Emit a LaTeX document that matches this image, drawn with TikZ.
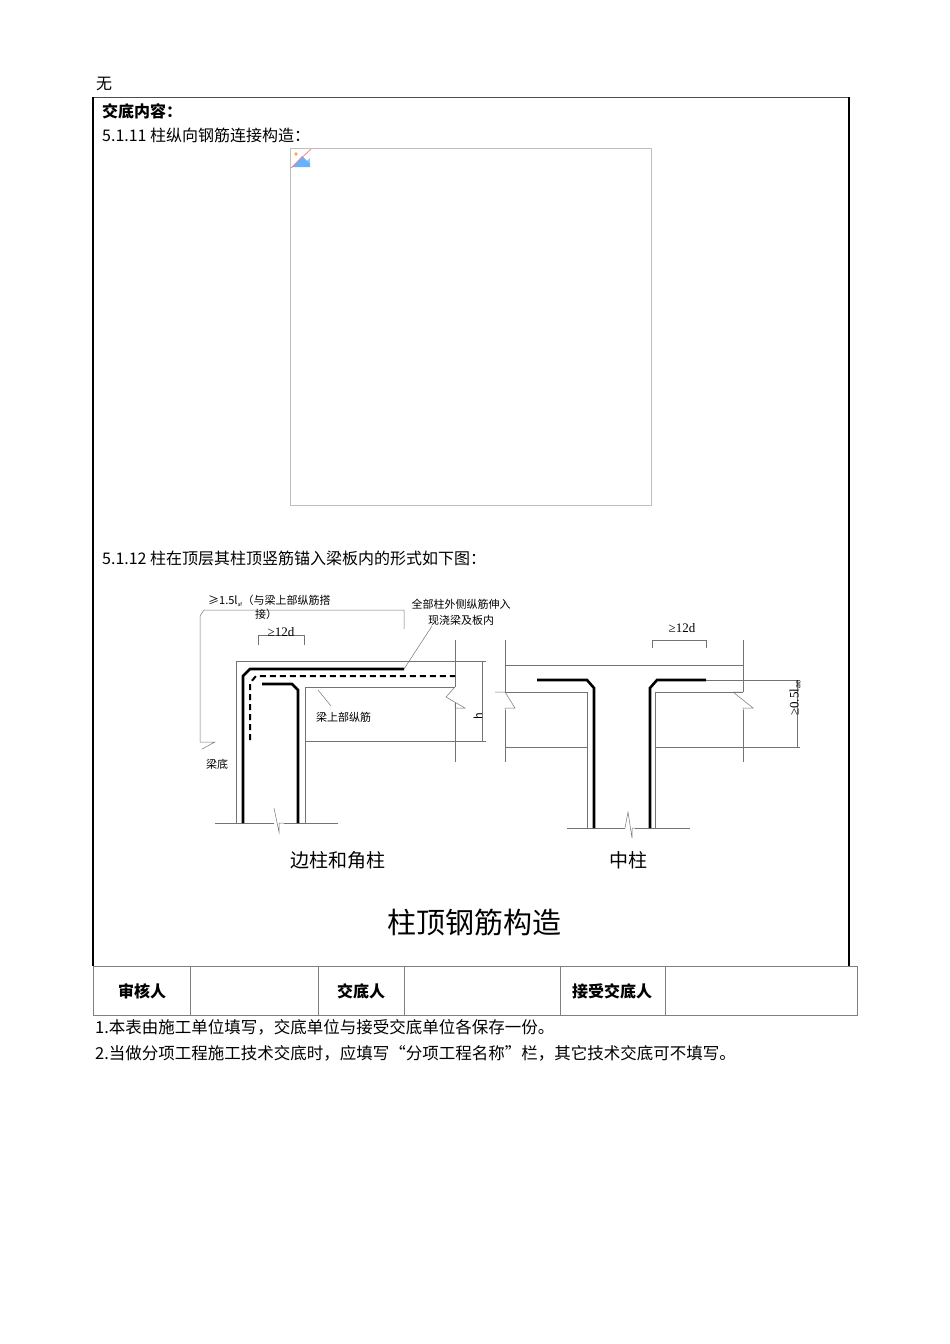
\documentclass[tikz,border=0pt]{standalone}
\usepackage{fontspec}
\setmainfont{Liberation Serif}
\newfontfamily\cjk{Noto Sans CJK SC}
\begin{document}
\begin{tikzpicture}[x=1pt,y=-1pt,
  thin/.style={draw=black!55,line width=0.5pt},
  bar/.style={line width=2.6pt,line join=miter},
  txt/.style={inner sep=0pt,font=\cjk\fontsize{16}{18}\selectfont},
  small/.style={inner sep=0pt,font=\cjk\fontsize{11}{12}\selectfont},
  cell/.style={inner sep=0pt,font=\cjk\bfseries\fontsize{16}{18}\selectfont}]
\useasboundingbox (0,0) rectangle (950,1344);
% top text
\node[txt,anchor=west] (wu) at (96,84) {无};
% frame
\draw[black!70,line width=0.8pt] (93,97) -- (849,97);
\draw[line width=1.8pt] (93,97) -- (93,966);
\draw[line width=1.8pt] (849,97) -- (849,966);
\node[txt,anchor=west,font=\cjk\bfseries\fontsize{16}{18}\selectfont] (jd) at (102,111) {交底内容：};
\node[txt,anchor=west] (t511) at (102,135) {5.1.11 柱纵向钢筋连接构造：};
\draw[draw=black!25,line width=0.5pt] (290,148) rectangle (651,505);
\fill[blue!40!cyan!50] (292,150) rectangle (310,167);
\fill[white] (292,150) -- (310,150) -- (310,158) -- (300,167) -- (292,167) -- cycle;
\fill[blue!50!cyan!60] (292,167) -- (302,156) -- (310,164) -- (310,167) -- cycle;
\fill[orange!70] (296,154) circle (1.8);
\draw[red!50,line width=0.8pt] (291,168) -- (311,149);
\node[txt,anchor=west] (t512) at (102,558) {5.1.12 柱在顶层其柱顶竖筋锚入梁板内的形式如下图：};
% ===== diagram 1 =====
\draw[thin] (236,823) -- (236,661) -- (483,661);
\draw[thin] (455,640) -- (455,687);
\draw[thin] (455,703) -- (455,762);
\draw[thin] (305,823) -- (305,687) -- (455,687);
\draw[thin] (455,687) -- (446,697) -- (465,708) -- (455,708) -- (455,703);
\draw[thin] (305,741) -- (483,741);
\draw[thin] (215,823) -- (274,823);
\draw[thin] (284,823) -- (338,823);
\draw[thin] (274,808) -- (279,832) -- (279,823) -- (284,823);
\draw[thin] (482,661) -- (482,741);
\draw[thin] (478,661) -- (486,661) (478,741) -- (486,741);
\node[small,rotate=90] (h1) at (478,716) {h};
\draw[bar] (243,823) -- (243,676) -- (250,669) -- (404,669);
\draw[bar,dashed,line width=2pt,dash pattern=on 6pt off 4pt] (250,740) -- (250,683) -- (256,676) -- (455,676);
\draw[bar] (298,823) -- (298,690) -- (292,684) -- (262,684);
\draw[thin] (258,645) -- (258,635) -- (304,635) -- (304,645);
\node[small,font=\fontsize{13}{14}\selectfont] (d12a) at (281,632) {≥12d};
\draw[thin] (404,629) -- (404,610) -- (204,610) -- (200,616) -- (200,742);
\draw[thin] (200,742) -- (215,742) -- (202,749);
\node[small,anchor=west] (l15) at (208,601) {≥1.5l\textsubscript{\tiny af}（与梁上部纵筋搭};
\node[small,anchor=west] (jie) at (255,614) {接）};
\node[small] (qb1) at (461,604) {全部柱外侧纵筋伸入};
\node[small] (qb2) at (461,620) {现浇梁及板内};
\coordinate (lead1) at (404,669);
\draw[thin] (lead1) -- (432,626);
\node[small,anchor=west] (lsb) at (316,717) {梁上部纵筋};
\coordinate (lead2) at (331,706);
\draw[thin] (lead2) -- (318,690);
\node[small] (ld) at (217,764) {梁底};
\node[txt,font=\cjk\fontsize{19}{21}\selectfont] (bz) at (338,860) {边柱和角柱};
% ===== diagram 2 =====
\draw[thin] (505,640) -- (505,692);
\draw[thin] (505,710) -- (505,762);
\draw[thin] (743,640) -- (743,692);
\draw[thin] (743,710) -- (743,762);
\draw[thin] (505,665) -- (743,665);
\draw[thin] (505,692) -- (587,692) -- (587,828);
\draw[thin] (743,692) -- (655,692) -- (655,828);
\draw[thin] (505,747) -- (587,747);
\draw[thin] (655,747) -- (800,747);
\draw[thin] (495,692) -- (505,692) (505,692) -- (515,708) -- (505,708) -- (505,710);
\draw[thin] (743,692) -- (733,692) (733,692) -- (753,708) -- (743,708) -- (743,710);
\draw[thin] (567,828) -- (625,828) (635,828) -- (690,828);
\draw[thin] (625,828) -- (628,812) -- (632,838) -- (632,828) -- (635,828);
\draw[bar] (537,680) -- (587,680) -- (594,688) -- (594,828);
\draw[bar] (650,828) -- (650,688) -- (657,680) -- (706,680);
\draw[thin] (652,648) -- (652,640) -- (706,640) -- (706,648);
\node[small,font=\fontsize{13}{14}\selectfont] (d12b) at (682,628) {≥12d};
\draw[thin] (706,680) -- (800,680);
\draw[thin] (797,680) -- (797,747);
\node[small,rotate=90,font=\fontsize{13}{14}\selectfont] (l05) at (795,698) {≥0.5l\textsubscript{ae}};
\node[txt,font=\cjk\fontsize{19}{21}\selectfont] (zz) at (628,860) {中柱};
\node[txt,font=\cjk\fontsize{29}{32}\selectfont] (title) at (474,922) {柱顶钢筋构造};
% ===== table =====
\draw[black!50,line width=0.6pt] (93,966) rectangle (857,1015);
\foreach \x in {190,318,404,560,665} \draw[black!50,line width=0.6pt] (\x,966) -- (\x,1015);
\node[cell] (shr) at (142,991) {审核人};
\node[cell] (jdr) at (361,991) {交底人};
\node[cell] (jsr) at (612,991) {接受交底人};
\node[txt,anchor=west,font=\cjk\fontsize{16.5}{18}\selectfont] (n1) at (95,1027) {1.本表由施工单位填写，交底单位与接受交底单位各保存一份。};
\node[txt,anchor=west,font=\cjk\fontsize{16.5}{18}\selectfont] (n2) at (95,1053) {2.当做分项工程施工技术交底时，应填写“分项工程名称”栏，其它技术交底可不填写。};
\end{tikzpicture}
\end{document}
